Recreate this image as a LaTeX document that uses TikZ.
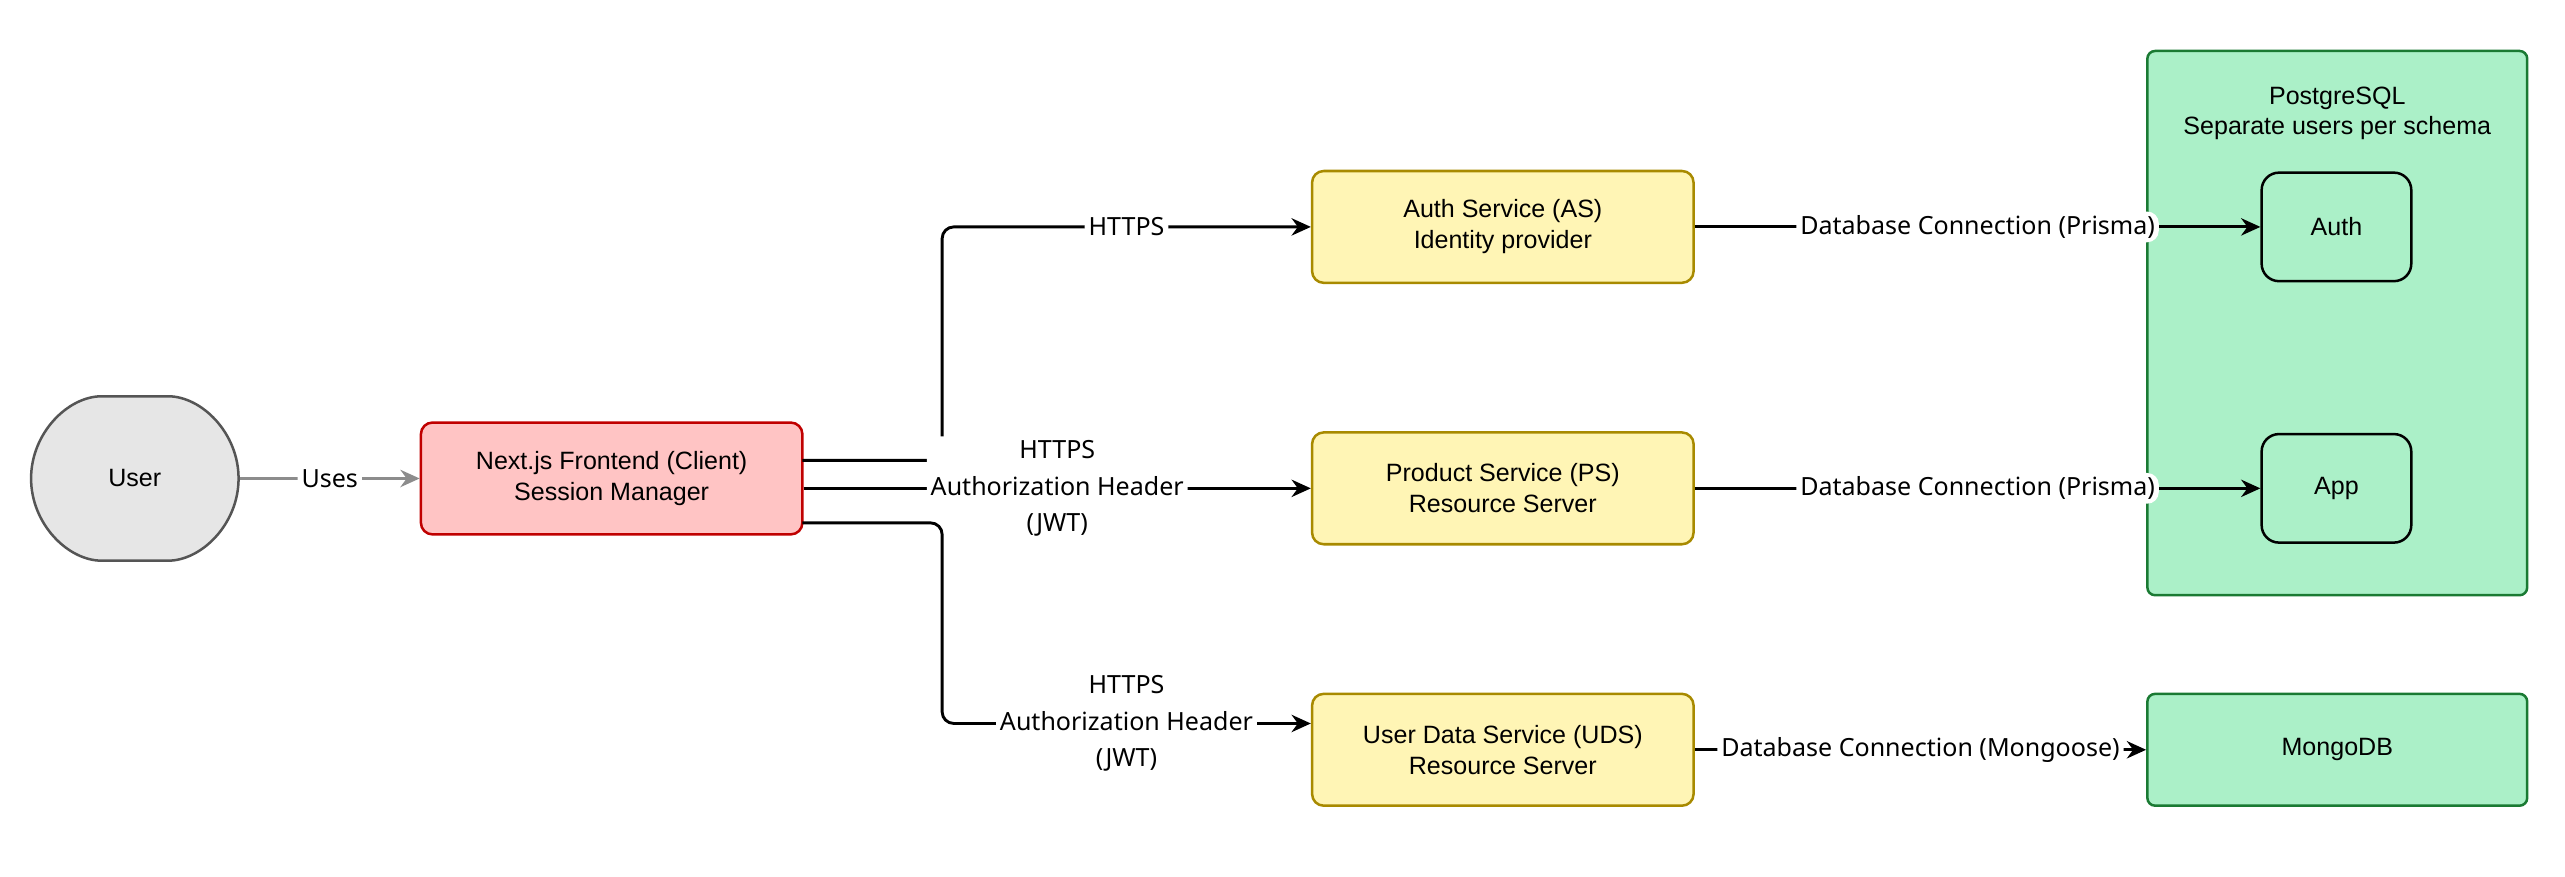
\documentclass[tikz,border=0pt]{standalone}
\usepackage{fontspec}
\setmainfont{Liberation Sans}
\newfontfamily\labelfont{Noto Sans}
\usetikzlibrary{positioning,shapes,arrows.meta}
\definecolor{userfill}{HTML}{E6E6E6}
\definecolor{userdraw}{HTML}{555555}
\definecolor{clientfill}{HTML}{FFC4C4}
\definecolor{clientdraw}{HTML}{C00000}
\definecolor{svcfill}{HTML}{FFF5B5}
\definecolor{svcdraw}{HTML}{A88A00}
\definecolor{dbfill}{HTML}{ABF0C8}
\definecolor{dbdraw}{HTML}{1A7A33}
\tikzstyle{block} = [rectangle, rounded corners=6pt, draw, line width=1.3pt, align=center, font=\fontsize{13}{16}\selectfont]
\tikzstyle{service} = [block, fill=svcfill, draw=svcdraw, minimum width=6.96cm, minimum height=2.04cm]
\tikzstyle{store} = [block, fill=dbfill, draw=black, minimum width=2.73cm, minimum height=1.98cm, rounded corners=9pt]
\tikzstyle{line} = [draw, line width=1.5pt, -{Stealth[length=10pt,width=9pt]}, rounded corners=6pt]
\tikzstyle{tag} = [fill=white, inner sep=2pt, align=center, font=\labelfont\fontsize{13}{19}\selectfont]

\begin{document}
\begin{tikzpicture}[x=0.03cm, y=-0.03cm]
    \useasboundingbox (0,0) rectangle (1560,533);
    % Blocks
    \node [block, ellipse, rounded rectangle, fill=userfill, draw=userdraw,
           minimum width=4.02cm, minimum height=3cm] (user) at (82,291) {User};
    \node [block, fill=clientfill, draw=clientdraw, minimum width=6.96cm, minimum height=2.04cm]
          (client) at (372,291) {Next.js Frontend (Client)\\Session Manager};
    \node [service] (as) at (914,138) {Auth Service (AS)\\Identity provider};
    \node [service] (ps) at (914,297) {Product Service (PS)\\Resource Server};
    \node [service] (uds) at (914,456) {User Data Service (UDS)\\Resource Server};
    \node [block, fill=dbfill, draw=dbdraw, minimum width=6.93cm, minimum height=9.93cm,
           rounded corners=4pt] (pg) at (1421.5,196.5) {};
    \node [align=center, font=\fontsize{13}{16}\selectfont, below=0.55cm of pg.north] (pgtitle)
          {PostgreSQL\\Separate users per schema};
    \node [store] (authdb) at (1421,138) {Auth};
    \node [store] (appdb) at (1421,297) {App};
    \node [block, fill=dbfill, draw=dbdraw, minimum width=6.93cm, minimum height=2.04cm,
           rounded corners=4pt] (mongo) at (1421.5,456) {MongoDB};
    % Lines
    \coordinate (c1) at (488,280);
    \coordinate (c3) at (488,318);
    \path [line, draw=gray!90] (user) -- node [tag] {Uses} (client);
    \path [line] (c1) -| (573,138) -- node [tag] {HTTPS} (as.west |- 0,138);
    \path [line] (client.east |- 0,297) -- node [tag] {HTTPS\\Authorization Header\\(JWT)} (ps.west);
    \path [line] (c3) -| (573,440) -- node [tag] {HTTPS\\Authorization Header\\(JWT)} (uds.west |- 0,440);
    \path [line] (as) -- node [tag] {Database Connection (Prisma)} (authdb);
    \path [line] (ps) -- node [tag] {Database Connection (Prisma)} (appdb);
    \path [line] (uds) -- node [tag] {Database Connection (Mongoose)} (mongo);
\end{tikzpicture}
\end{document}
